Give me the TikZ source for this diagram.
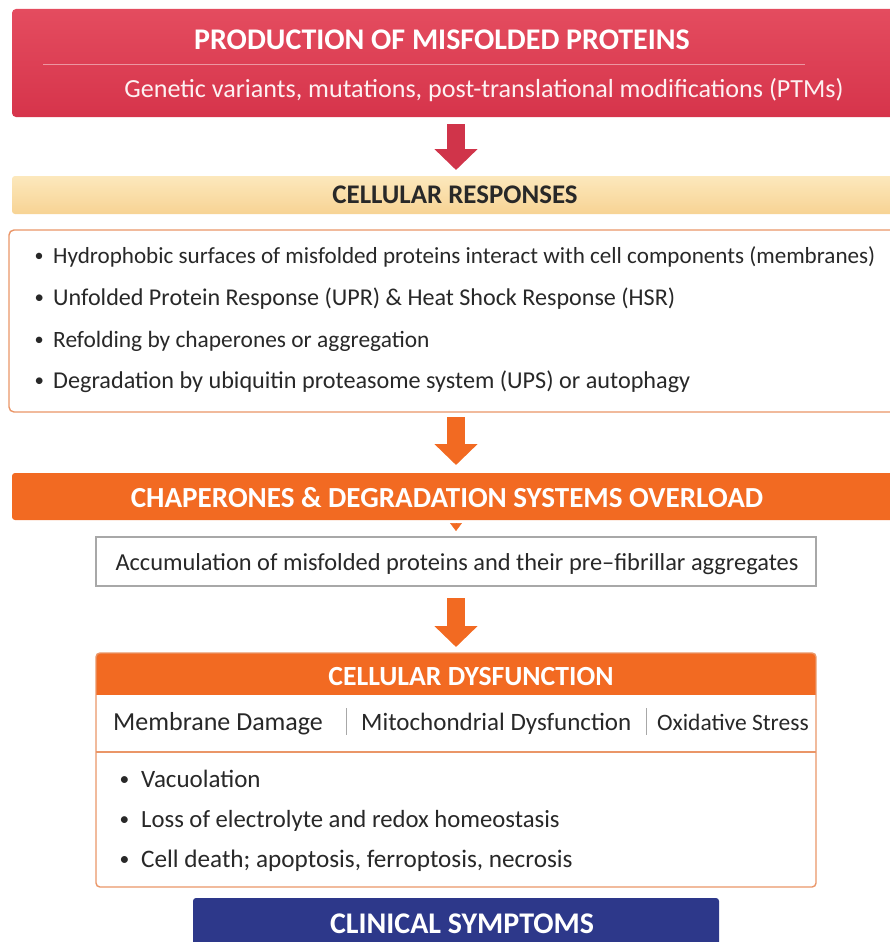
\documentclass[tikz,border=0pt]{standalone}
\usepackage{fontspec}
\setmainfont{Carlito}
\usetikzlibrary{arrows.meta,positioning,calc}
\usepackage{xcolor}
\usepackage{graphicx}

\definecolor{prodtop}{RGB}{228,76,95}
\definecolor{prodbot}{RGB}{214,52,75}
\definecolor{prodarrow}{RGB}{208,52,74}
\definecolor{resptop}{RGB}{252,232,188}
\definecolor{respbot}{RGB}{247,211,148}
\definecolor{listline}{RGB}{234,150,104}
\definecolor{overorange}{RGB}{242,106,34}
\definecolor{accline}{RGB}{168,168,168}
\definecolor{clinblue}{RGB}{45,56,138}
\definecolor{bodytext}{RGB}{40,40,40}

\newcommand{\bul}[1][20pt]{\makebox[#1][l]{\hspace{1.5pt}\raisebox{1.2pt}{\scalebox{.78}{\textbullet}}}}
\newcommand{\fs}[1]{\fontsize{#1}{30}\selectfont}

\begin{document}
\begin{tikzpicture}[x=1pt, y=-1pt,
    box/.style = {inner sep=0pt, outer sep=0pt},
    titlew/.style = {inner sep=0pt, anchor=base, text=white, font=\bfseries\fs{30}},
    body/.style = {inner sep=0pt, anchor=base west, text=bodytext, font=\fs{24}},
    bigarrow/.style = {line width=18pt, -{Triangle[width=42pt,length=21pt]}}]
  \useasboundingbox (0,0) rectangle (889,942);

  % production
  \node[box, anchor=north west, minimum width=888pt, minimum height=108pt, rounded corners=4pt,
        top color=prodtop, bottom color=prodbot] (prod) at (12,9) {};
  \node[titlew] (prodtitle) at (442,50) {PRODUCTION OF MISFOLDED PROTEINS};
  \draw[white, opacity=.45, line width=1pt] (43,65) -- (805,65);
  \node[titlew, font=\fs{26.1}, text=white!92!prodtop] (prodsub) at (484,97)
    {Genetic variants, mutations, post-translational modifications (PTMs)};

  % cellular responses
  \node[box, anchor=north west, minimum width=888pt, minimum height=38pt, rounded corners=3pt,
        top color=resptop, bottom color=respbot] (resp) at (12,176) {};
  \node[titlew, text=bodytext, font=\bfseries\fs{26.9}] (resptitle) at (455,203) {CELLULAR RESPONSES};
  \node[box, anchor=north west, minimum width=894pt, minimum height=182pt, rounded corners=5pt,
        draw=listline, line width=1.4pt, fill=white] (list) at (9,230) {};
  \node[body, font=\fs{23.1}] (resp1) at (33,263) {\bul Hydrophobic surfaces of misfolded proteins interact with cell components (membranes)};
  \node[body, font=\fs{24.1}] (resp2) at (33,305) {\bul Unfolded Protein Response (UPR) \& Heat Shock Response (HSR)};
  \node[body, font=\fs{23.4}] (resp3) at (33,347) {\bul Refolding by chaperones or aggregation};
  \node[body, font=\fs{24.2}] (resp4) at (33,388) {\bul Degradation by ubiquitin proteasome system (UPS) or autophagy};

  % overload
  \node[box, anchor=north west, minimum width=888pt, minimum height=47pt, rounded corners=3pt,
        fill=overorange] (over) at (12,473) {};
  \node[titlew, font=\bfseries\fs{29.1}] (overtitle) at (447,507) {CHAPERONES \& DEGRADATION SYSTEMS OVERLOAD};
  \node[box, anchor=north west, minimum width=720pt, minimum height=49pt,
        draw=accline, line width=1.2pt, fill=white] (accum) at (96,537) {};
  \node[body, anchor=base, font=\fs{24.4}] (accumtext) at (457,570)
    {Accumulation of misfolded proteins and their pre–fibrillar aggregates};

  % cellular dysfunction
  \node[box, anchor=north west, minimum width=720pt, minimum height=234pt, fill=white] (dys) at (96,653) {};
  \begin{scope}
    \clip[rounded corners=4pt] (dys.north west) rectangle (dys.south east);
    \node[box, anchor=north, minimum width=720pt, minimum height=42pt, fill=overorange] (dyshead) at (dys.north) {};
  \end{scope}
  \draw[listline, line width=1.4pt, rounded corners=4pt] (dys.north west) rectangle (dys.south east);
  \node[titlew, font=\bfseries\fs{27.7}] (dystitle) at (471,685) {CELLULAR DYSFUNCTION};
  \node[box, anchor=north, minimum width=720pt, minimum height=57pt] (dysrow) at (dyshead.south) {};
  \draw[listline, line width=1.2pt] (dysrow.south west) -- (dysrow.south east);
  \node[body, font=\fs{26}] (membrane) at (113,730) {Membrane Damage};
  \node[body, font=\fs{25}] (mito) at (361,730) {Mitochondrial Dysfunction};
  \node[body, font=\fs{23.5}] (oxid) at (657,730) {Oxidative Stress};
  \draw[accline, line width=1pt] (346,708) -- (346,735);
  \draw[accline, line width=1pt] (646,708) -- (646,735);
  \node[body, font=\fs{25}] (dys1) at (118,787) {\bul[23pt]Vacuolation};
  \node[body, font=\fs{24.7}] (dys2) at (118,827) {\bul[23pt]Loss of electrolyte and redox homeostasis};
  \node[body, font=\fs{25.2}] (dys3) at (118,867) {\bul[23pt]Cell death; apoptosis, ferroptosis, necrosis};

  % clinical symptoms
  \node[box, anchor=north, minimum width=526pt, minimum height=60pt, rounded corners=3pt,
        fill=clinblue] (clin) at (456,898) {};
  \node[titlew] (clintitle) at (462,933) {CLINICAL SYMPTOMS};

  % arrows
  \draw[bigarrow, prodarrow, shorten <=7pt, shorten >=6pt] (prod.south) -- (resp.north);
  \draw[bigarrow, overorange, shorten <=5pt, shorten >=8pt] (list.south) -- (over.north);
  \draw[line width=.5pt, overorange, -{Triangle[width=12pt,length=8pt]}, shorten <=3pt, shorten >=6pt] (over.south) -- (accum.north);
  \draw[bigarrow, overorange, shorten <=12pt, shorten >=6pt] (accum.south) -- (dys.north);
\end{tikzpicture}
\end{document}
